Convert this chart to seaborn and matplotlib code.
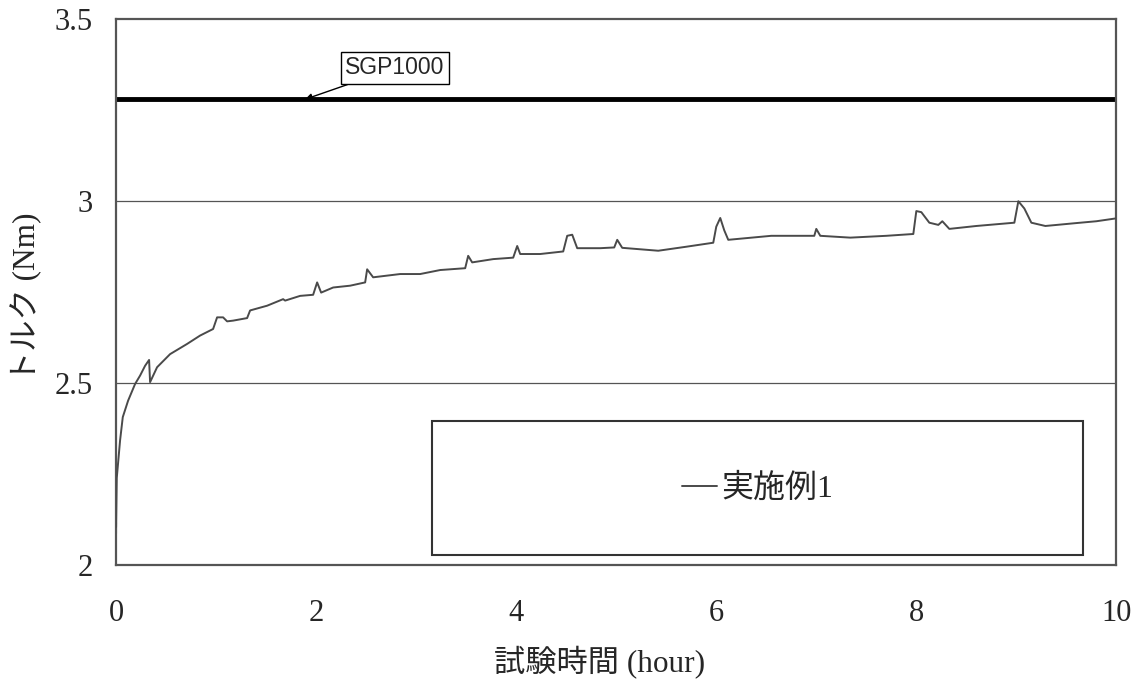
import matplotlib
matplotlib.use("Agg")
import matplotlib.pyplot as plt
from matplotlib.patches import Rectangle
import seaborn as sns
import pandas as pd

# torque test
hours = [0.0, 0.0, 0.007, 0.04, 0.067, 0.12, 0.19, 0.24, 0.29, 0.33, 0.34, 0.41,
         0.54, 0.71, 0.84, 0.97, 1.01, 1.07, 1.11, 1.17, 1.31, 1.34, 1.51, 1.67,
         1.69, 1.84, 1.97, 2.01, 2.05, 2.17, 2.34, 2.49, 2.51, 2.57, 2.84, 3.04,
         3.24, 3.49, 3.52, 3.56, 3.77, 3.97, 4.01, 4.04, 4.24, 4.47, 4.51, 4.56,
         4.61, 4.84, 4.98, 5.01, 5.06, 5.42, 5.7, 5.97, 6.0, 6.04, 6.08, 6.12,
         6.55, 6.98, 7.0, 7.04, 7.34, 7.7, 7.97, 8.0, 8.05, 8.13, 8.22, 8.26,
         8.33, 8.6, 8.98, 9.02, 9.08, 9.15, 9.29, 9.6, 9.8, 10.0]
torque = [2.09, 2.12, 2.24, 2.343, 2.407, 2.452, 2.498, 2.521, 2.548, 2.564,
          2.503, 2.544, 2.58, 2.608, 2.631, 2.649, 2.681, 2.681, 2.67, 2.672,
          2.679, 2.70, 2.713, 2.731, 2.727, 2.74, 2.743, 2.777, 2.749, 2.763,
          2.768, 2.777, 2.813, 2.791, 2.80, 2.80, 2.811, 2.816, 2.85, 2.832,
          2.841, 2.845, 2.877, 2.855, 2.855, 2.862, 2.905, 2.908, 2.871, 2.871,
          2.873, 2.894, 2.872, 2.864, 2.875, 2.886, 2.93, 2.954, 2.92, 2.894,
          2.905, 2.905, 2.924, 2.905, 2.90, 2.905, 2.91, 2.973, 2.97, 2.941,
          2.935, 2.945, 2.924, 2.932, 2.941, 3.0, 2.98, 2.941, 2.932, 2.94,
          2.945, 2.953]

sgp_level = 3.28
series_name = "実施例1"
x_ticks = [0, 2, 4, 6, 8, 10]
y_ticks = [2, 2.5, 3, 3.5]
y_tick_labels = ["2", "2.5", "3", "3.5"]

df = pd.DataFrame({"hour": hours, "torque": torque})

sns.set_style("white")
plt.rcParams["font.family"] = ["Liberation Serif", "Noto Sans CJK JP"]

fig = plt.figure(figsize=(11.38, 6.86), dpi=100)
ax = fig.add_axes([0.102, 0.176, 0.879, 0.796])

for v in [2.5, 3.0]:
    ax.axhline(v, color="#555555", lw=0.9, zorder=1)
ax.axhline(sgp_level, color="black", lw=3.5, zorder=2)

sns.lineplot(data=df, x="hour", y="torque", ax=ax, color="#4a4a4a",
             lw=1.4, label=series_name, zorder=3)

ax.set_xlim(0, 10)
ax.set_ylim(2, 3.5)
ax.set_xticks(x_ticks)
ax.set_yticks(y_ticks)
ax.set_xticklabels([str(t) for t in x_ticks])
ax.set_yticklabels(y_tick_labels)
ax.tick_params(axis="x", direction="in", length=8, width=0.9, color="#555555",
               labelsize=22, pad=24)
ax.tick_params(axis="y", length=0, labelsize=22, pad=17)
for s in ax.spines.values():
    s.set_color("#555555")
    s.set_linewidth(1.6)

ax.set_xlabel("試験時間 (hour)", fontsize=22.5, va="center")
ax.xaxis.set_label_coords(0.483, -0.178)
ax.set_ylabel("トルク (Nm)", fontsize=22.5, va="center")
ax.yaxis.set_label_coords(-0.09, 0.49)

ax.annotate("SGP1000", xy=(1.89, sgp_level), xytext=(2.79, 3.366),
            ha="center", va="center", fontsize=16.5, family="Liberation Sans",
            bbox=dict(boxstyle="square,pad=0.2", fc="white", ec="black", lw=1),
            arrowprops=dict(arrowstyle="-|>", color="black", lw=1,
                            mutation_scale=10, shrinkA=0, shrinkB=0),
            zorder=5)

# legend: big frame box with the entry centred inside
ax.add_patch(Rectangle((3.16, 2.027), 6.51, 0.368, fill=False,
                       ec="#333333", lw=1.5, zorder=4))
ax.legend(loc="center", bbox_to_anchor=(6.415, 2.21), bbox_transform=ax.transData,
          frameon=False, fontsize=23, handlelength=1.1, handletextpad=0.15)

fig.savefig("out.png", dpi=100)
